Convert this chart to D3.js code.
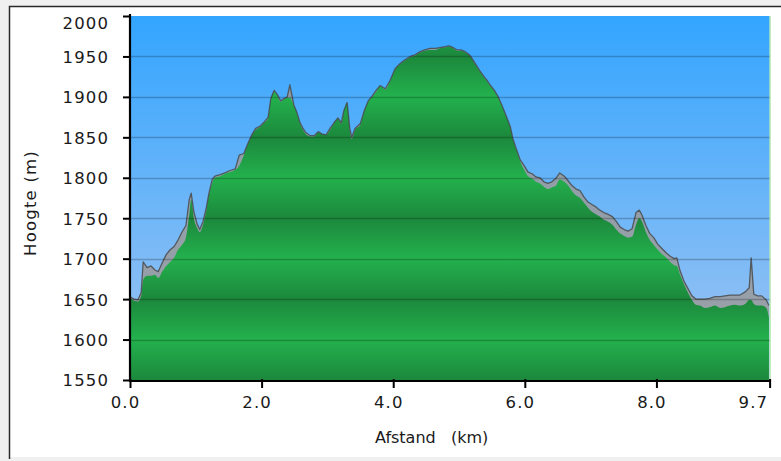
<!DOCTYPE html>
<html>
<head>
<meta charset="utf-8">
<script src="https://cdn.jsdelivr.net/npm/d3@7"></script>
<style>
  html, body { margin: 0; padding: 0; background: #f0f0f0; }
  svg { display: block; }
  text { font-family: "DejaVu Sans", Verdana, sans-serif; fill: #1a1a1a; }
</style>
</head>
<body>
<svg id="chart" width="781" height="461"></svg>
<script>
// ---- data ----
const distanceKm = [0.00,0.06,0.12,0.17,0.20,0.26,0.32,0.38,0.43,0.49,0.55,0.61,0.67,0.73,0.79,0.85,0.90,0.93,0.97,1.02,1.06,1.11,1.16,1.20,1.25,1.29,1.37,1.44,1.52,1.60,1.66,1.73,1.79,1.85,1.91,1.98,2.04,2.10,2.14,2.19,2.23,2.29,2.34,2.39,2.43,2.49,2.54,2.58,2.63,2.67,2.74,2.80,2.86,2.92,2.98,3.04,3.10,3.16,3.21,3.25,3.30,3.34,3.37,3.42,3.50,3.56,3.62,3.68,3.74,3.80,3.88,3.95,4.03,4.10,4.18,4.26,4.33,4.41,4.48,4.56,4.64,4.71,4.79,4.85,4.91,4.97,5.03,5.09,5.17,5.24,5.32,5.38,5.43,5.47,5.53,5.59,5.65,5.71,5.78,5.82,5.87,5.93,5.99,6.05,6.11,6.17,6.23,6.29,6.35,6.41,6.47,6.53,6.60,6.66,6.72,6.78,6.84,6.90,6.96,7.02,7.08,7.14,7.20,7.26,7.33,7.39,7.45,7.51,7.57,7.63,7.69,7.74,7.78,7.84,7.90,7.96,8.02,8.09,8.15,8.21,8.27,8.31,8.36,8.42,8.48,8.54,8.60,8.66,8.74,8.81,8.89,8.97,9.04,9.12,9.19,9.27,9.35,9.41,9.44,9.48,9.54,9.60,9.67,9.71];
// smoothed elevation (top of the green profile), metres
const elevationM = [1651,1648,1647,1654,1674,1679,1679,1680,1676,1684,1691,1696,1701,1711,1717,1726,1754,1773,1750,1738,1733,1742,1760,1779,1794,1800,1802,1805,1807,1810,1815,1828,1841,1852,1859,1863,1868,1874,1897,1906,1903,1894,1897,1899,1899,1889,1879,1868,1859,1854,1851,1851,1856,1854,1853,1859,1867,1873,1867,1882,1892,1859,1848,1859,1866,1882,1894,1900,1906,1913,1909,1919,1934,1940,1945,1949,1951,1955,1957,1958,1958,1960,1961,1962,1960,1957,1957,1955,1950,1941,1931,1924,1919,1914,1908,1900,1889,1877,1862,1847,1835,1820,1810,1802,1799,1795,1793,1789,1786,1788,1790,1798,1795,1790,1783,1778,1775,1769,1763,1758,1755,1752,1748,1746,1742,1736,1731,1728,1726,1727,1742,1750,1746,1733,1723,1717,1711,1705,1701,1696,1692,1691,1680,1668,1658,1649,1643,1642,1639,1640,1642,1639,1640,1642,1643,1642,1644,1649,1649,1644,1642,1642,1639,1627];
// upper envelope of the raw (noisy) measurements, metres
const rawMaxM = [1653,1650,1649,1658,1696,1689,1691,1686,1684,1695,1705,1711,1715,1723,1733,1741,1773,1781,1758,1743,1736,1746,1763,1781,1798,1802,1804,1806,1809,1811,1828,1830,1842,1853,1861,1864,1869,1875,1898,1908,1904,1895,1898,1900,1915,1890,1880,1869,1861,1856,1852,1852,1857,1854,1853,1861,1868,1874,1868,1883,1893,1861,1850,1861,1867,1883,1895,1901,1908,1914,1910,1920,1935,1941,1946,1950,1952,1956,1958,1960,1960,1961,1962,1963,1961,1958,1958,1956,1951,1942,1932,1925,1920,1915,1909,1901,1890,1878,1863,1848,1836,1822,1815,1807,1805,1801,1800,1795,1793,1795,1799,1806,1802,1796,1790,1786,1784,1776,1770,1767,1764,1760,1757,1755,1752,1746,1739,1736,1734,1737,1757,1760,1754,1741,1731,1726,1718,1712,1707,1703,1700,1701,1685,1672,1663,1654,1650,1650,1650,1651,1653,1653,1654,1655,1655,1655,1659,1664,1701,1656,1654,1654,1649,1642];

const yTicks = [1550,1600,1650,1700,1750,1800,1850,1900,1950,2000];
const xTicks = [0,2,4,6,8,9.72];
const xTickLabels = ["0.0","2.0","4.0","6.0","8.0","9.7"];
const yAxisTitle = "Hoogte (m)";
const xAxisTitle = "Afstand   (km)";

// ---- layout ----
const svg = d3.select("#chart");
const mLeft = 130, mRight = 769.6, mTop = 16, mBottom = 380;

const x = d3.scaleLinear().domain([0, 9.72]).range([mLeft, mRight]);
const y = d3.scaleLinear().domain([1550, 2000]).range([mBottom, mTop]);

const pts = distanceKm.map((d, i) => ({ d, e: elevationM[i], r: rawMaxM[i] }));

// frame
svg.append("rect").attr("x", 0).attr("y", 0).attr("width", 781).attr("height", 461).attr("fill", "#f0f0f0");
svg.append("rect").attr("x", 10).attr("y", 7).attr("width", 771).attr("height", 450).attr("fill", "#ffffff");
svg.append("path").attr("d", "M9.5,459V6.5H781").attr("fill", "none").attr("stroke", "#2a2a2a").attr("stroke-width", 1.5);

const defs = svg.append("defs");
const sky = defs.append("linearGradient").attr("id", "sky")
  .attr("gradientUnits", "userSpaceOnUse").attr("x1", 0).attr("x2", 0).attr("y1", mTop).attr("y2", mBottom);
sky.append("stop").attr("offset", 0).attr("stop-color", "#33a5ff");
sky.append("stop").attr("offset", 1).attr("stop-color", "#a2c5f1");

const grass = defs.append("linearGradient").attr("id", "grass")
  .attr("gradientUnits", "userSpaceOnUse").attr("x1", 0).attr("x2", 0).attr("y1", y(2000)).attr("y2", y(1550));
yTicks.slice().reverse().forEach(v => {
  const k = (v - 1550) / 50;
  grass.append("stop")
    .attr("offset", (y(v) - y(2000)) / (y(1550) - y(2000)))
    .attr("stop-color", k % 2 === 0 ? "#1c883c" : "#23b14d");
});

// plot background
svg.append("rect").attr("x", mLeft).attr("y", mTop).attr("width", mRight - mLeft).attr("height", mBottom - mTop)
  .attr("fill", "url(#sky)");

// raw noise band
const rawArea = d3.area().x(p => x(p.d)).y0(y(1550)).y1(p => y(p.r)).curve(d3.curveLinear);
svg.append("path").datum(pts).attr("d", rawArea).attr("fill", "#9a9a9a").attr("opacity", 0.85);

// green profile
const area = d3.area().x(p => x(p.d)).y0(y(1550)).y1(p => y(p.e)).curve(d3.curveMonotoneX);
svg.append("path").datum(pts).attr("d", area).attr("fill", "url(#grass)");

// outline
const line = d3.line().x(p => x(p.d)).y(p => y(p.r)).curve(d3.curveLinear);
svg.append("path").datum(pts).attr("d", line).attr("fill", "none")
  .attr("stroke", "#454545").attr("stroke-width", 1.3).attr("stroke-linejoin", "round").attr("opacity", 0.8);

// end marker
svg.append("line").attr("x1", mRight + 0.5).attr("x2", mRight + 0.5).attr("y1", mTop).attr("y2", mBottom)
  .attr("stroke", "#9be08f").attr("stroke-width", 1);

// grid lines
svg.append("g").selectAll("line").data(yTicks.filter(v => v > 1550 && v < 2000)).join("line")
  .attr("x1", mLeft).attr("x2", mRight).attr("y1", d => Math.round(y(d)) + 0.5).attr("y2", d => Math.round(y(d)) + 0.5)
  .attr("stroke", "#000").attr("stroke-opacity", 0.22).attr("stroke-width", 1.5);

// axes
const yAxis = d3.axisLeft(y).tickValues(yTicks).tickSize(7).tickFormat(d3.format("d"));
const gy = svg.append("g").attr("transform", `translate(${mLeft},0)`).call(yAxis);
gy.select(".domain").attr("stroke", "#000").attr("stroke-width", 2.2).attr("d", `M0,${mTop - 2}V${mBottom + 1}`);
gy.selectAll(".tick line").attr("stroke", "#000").attr("stroke-width", 2);
gy.selectAll(".tick text").attr("x", -21).attr("font-size", 16.5).attr("letter-spacing", 1.1)
  .attr("font-family", "DejaVu Sans").attr("fill", "#1a1a1a")
  .attr("dy", d => d === 2000 ? "0.76em" : "0.36em");

const xAxis = d3.axisBottom(x).tickValues(xTicks).tickSize(7).tickFormat((d, i) => xTickLabels[i]);
const gx = svg.append("g").attr("transform", `translate(0,${mBottom + 1})`).call(xAxis);
gx.select(".domain").attr("stroke", "#000").attr("stroke-width", 2.2).attr("d", `M${mLeft - 1},0H${mRight + 1}`);
gx.selectAll(".tick line").attr("stroke", "#000").attr("stroke-width", 2).attr("y1", -2);
gx.selectAll(".tick text").attr("font-size", 16.5).attr("letter-spacing", 1.1)
  .attr("font-family", "DejaVu Sans").attr("fill", "#1a1a1a").attr("y", 15)
  .attr("text-anchor", (d, i) => i === xTicks.length - 1 ? "end" : "middle")
  .attr("x", (d, i) => i === xTicks.length - 1 ? -2 : -5);

// axis titles
svg.append("text").attr("transform", "translate(36,203) rotate(-90)").attr("text-anchor", "middle")
  .attr("font-size", 16.5).attr("letter-spacing", 1.2).text(yAxisTitle);
svg.append("text").attr("x", 375).attr("y", 443).attr("font-size", 16)
  .style("white-space", "pre").attr("xml:space", "preserve").text(xAxisTitle);
</script>
</body>
</html>
